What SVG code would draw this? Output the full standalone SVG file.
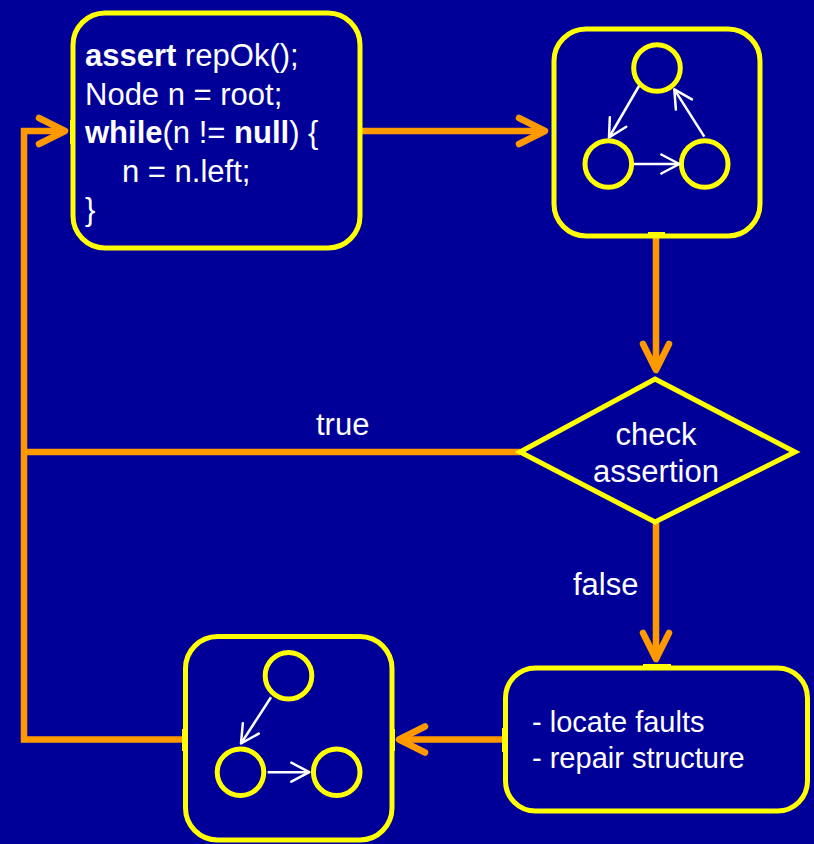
<svg xmlns="http://www.w3.org/2000/svg" width="814" height="844" viewBox="0 0 814 844">
  <style>
    .box { fill: #000099; stroke: #ffff00; stroke-width: 5; }
    .dot { fill: none; stroke: #ffff00; stroke-width: 5; }
    .ptr { fill: none; stroke: #ffffff; stroke-width: 2.5; marker-end: url(#ptrHead); }
    .flow { fill: none; stroke: #ff9900; stroke-width: 6.5; stroke-linejoin: miter; }
    .flowArrow { marker-end: url(#flowHead); }
    .site { fill: #ffff00; }
    text { font-family: "Liberation Sans", Arial, sans-serif; fill: #ffffff; }
    .code { font-size: 31px; }
    .label { font-size: 31px; }
    .note { font-size: 29px; }
    .kw { font-weight: bold; }
  </style>
  <defs>
    <marker id="flowHead" markerUnits="userSpaceOnUse" markerWidth="40" markerHeight="40" refX="0" refY="0" orient="auto" overflow="visible">
      <path d="M-26,-13 L0,0 L-26,13" fill="none" stroke="#ff9900" stroke-width="6.5" stroke-linecap="round" stroke-linejoin="round"/>
    </marker>
    <marker id="ptrHead" markerUnits="userSpaceOnUse" markerWidth="30" markerHeight="30" refX="0" refY="0" orient="auto" overflow="visible">
      <path d="M-18,-9.5 L0,0 L-18,9.5" fill="none" stroke="#ffffff" stroke-width="2.5" stroke-linecap="round" stroke-linejoin="round"/>
    </marker>
  </defs>

  <rect width="814" height="844" fill="#000099"/>

  <!-- flow connectors -->
  <g id="connectors">
    <path class="flow flowArrow" d="M360,131 H545"/>
    <path class="flow flowArrow" d="M656,236 V370"/>
    <path class="flow flowArrow" d="M656,522 V659"/>
    <path class="flow flowArrow" d="M505,739.5 H399"/>
    <path class="flow" d="M520,452 H24"/>
    <path class="flow flowArrow" d="M185,739.5 H24 V131 H65"/>
    <text class="label" x="316" y="435">true</text>
    <text class="label" x="573" y="595">false</text>
  </g>

  <!-- code under test -->
  <g id="code">
    <rect class="box" x="73" y="13" width="287" height="235" rx="32"/>
    <text class="code" x="85" y="66"><tspan class="kw">assert</tspan> repOk();</text>
    <text class="code" x="85" y="105">Node n = root;</text>
    <text class="code" x="85" y="143"><tspan class="kw">while</tspan>(n != <tspan class="kw">null</tspan>) {</text>
    <text class="code" x="122" y="182">n = n.left;</text>
    <text class="code" x="85" y="220">}</text>
    <rect class="site" x="70" y="120" width="5" height="24"/>
  </g>

  <!-- corrupted structure (cycle) -->
  <g id="cyclic">
    <rect class="box" x="554" y="29" width="206" height="207" rx="32"/>
    <circle class="dot" cx="657" cy="68" r="23.3"/>
    <circle class="dot" cx="608.3" cy="164" r="23.3"/>
    <circle class="dot" cx="704.7" cy="164" r="23.3"/>
    <line class="ptr" x1="639" y1="86" x2="609" y2="137.5"/>
    <line class="ptr" x1="634" y1="164" x2="679.3" y2="164"/>
    <line class="ptr" x1="704.3" y1="136.7" x2="674.3" y2="89.3"/>
    <rect class="site" x="648" y="232" width="17" height="5"/>
  </g>

  <!-- decision -->
  <g id="check">
    <polygon class="box" points="655,379 795,452 655,522 520,452"/>
    <text class="label" x="656" y="445" text-anchor="middle">check</text>
    <text class="label" x="656" y="482" text-anchor="middle">assertion</text>
  </g>

  <!-- repair step -->
  <g id="repair">
    <rect class="box" x="505.5" y="668" width="302" height="143" rx="30"/>
    <text class="note" x="532" y="732">- locate faults</text>
    <text class="note" x="532" y="768">- repair structure</text>
    <rect class="site" x="643" y="664" width="28" height="5"/>
    <rect class="site" x="502" y="728" width="5" height="24"/>
  </g>

  <!-- repaired structure -->
  <g id="repaired">
    <rect class="box" x="185.5" y="636.5" width="206.5" height="203.5" rx="32"/>
    <circle class="dot" cx="288.5" cy="675.8" r="23.3"/>
    <circle class="dot" cx="240.5" cy="772.2" r="23.3"/>
    <circle class="dot" cx="336.7" cy="772.2" r="23.3"/>
    <line class="ptr" x1="271" y1="697.3" x2="241" y2="743.5"/>
    <line class="ptr" x1="267.7" y1="772.2" x2="309.3" y2="772.2"/>
    <rect class="site" x="182" y="729" width="5" height="22"/>
    <rect class="site" x="390" y="729" width="5" height="22"/>
  </g>
</svg>
